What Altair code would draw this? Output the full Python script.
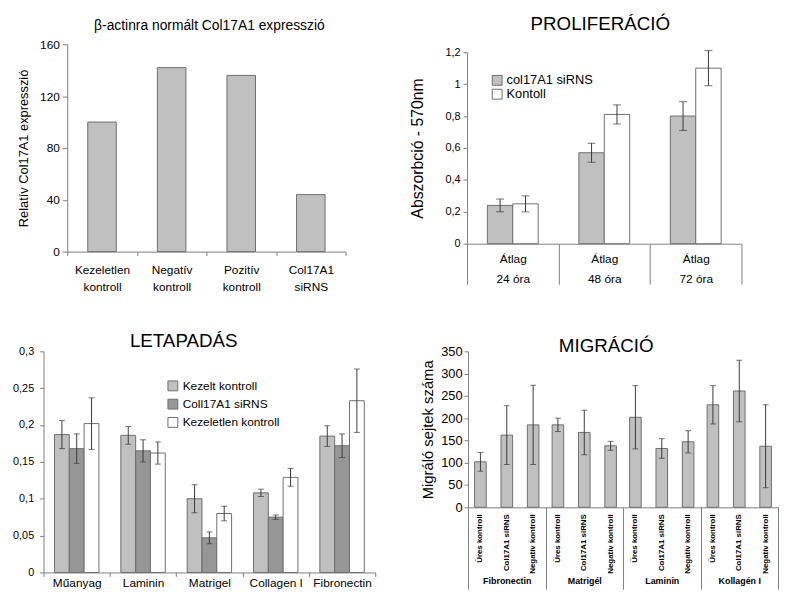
import altair as alt
import pandas as pd

FONT = "Liberation Sans"
AX = "#7f7f7f"      # axis line colour
BS = "#6e6e6e"      # bar outline
EC = "#3a3a3a"      # error bar colour

# ---------------- data ----------------
# Panel 1: beta-actin normalised Col17A1 expression
expr_cats = ["Kezeletlen|kontroll", "Negatív|kontroll", "Pozitív|kontroll", "Col17A1|siRNS"]
expr_vals = [100, 142, 136, 44]

# Panel 2: proliferation
prolif_times = ["Átlag|24 óra", "Átlag|48 óra", "Átlag|72 óra"]
prolif_series = ["col17A1 siRNS", "Kontoll"]
prolif_sirns = [0.24, 0.57, 0.80]
prolif_sirns_err = [0.04, 0.06, 0.09]
prolif_ctrl = [0.25, 0.81, 1.10]
prolif_ctrl_err = [0.05, 0.06, 0.11]

# Panel 3: adhesion
adh_surfaces = ["Műanyag", "Laminin", "Matrigel", "Collagen I", "Fibronectin"]
adh_series = ["Kezelt kontroll", "Coll17A1 siRNS", "Kezeletlen kontroll"]
adh_kezelt = [0.187, 0.186, 0.100, 0.108, 0.185]
adh_kezelt_err = [0.019, 0.012, 0.019, 0.005, 0.014]
adh_sirns = [0.168, 0.165, 0.047, 0.075, 0.172]
adh_sirns_err = [0.020, 0.015, 0.008, 0.003, 0.016]
adh_kezeletlen = [0.202, 0.162, 0.080, 0.129, 0.233]
adh_kezeletlen_err = [0.035, 0.015, 0.010, 0.012, 0.043]

# Panel 4: migration
mig_surfaces = ["Fibronectin", "Matrigél", "Laminin", "Kollagén I"]
mig_conditions = ["Üres kontroll", "Col17A1 siRNS", "Negatív kontroll"]
mig_ures = [102, 185, 202, 230]
mig_ures_err = [21, 15, 71, 43]
mig_col = [162, 168, 132, 261]
mig_col_err = [66, 50, 22, 69]
mig_neg = [185, 138, 147, 137]
mig_neg_err = [89, 10, 25, 93]

COMMA = "replace(format(datum.value, '~g'), '.', ',')"


def yenc(field, domain, values, title=None, lfs=12, tsize=4, lpad=3, tfs=13, tpad=8,
         rng=None, offset=None):
    ax = dict(values=values, grid=False, labelFontSize=lfs, tickSize=tsize,
              labelPadding=lpad, labelExpr=COMMA, domainColor=AX, tickColor=AX,
              labelColor="black", title=title)
    if title is not None:
        ax.update(titleFontSize=tfs, titlePadding=tpad, titleFontWeight="normal",
                  titleColor="black")
    if offset is not None:
        ax["offset"] = offset
    sc = dict(domain=domain, nice=False)
    if rng is not None:
        sc["range"] = rng
    return alt.Y(f"{field}:Q", scale=alt.Scale(**sc), axis=alt.Axis(**ax))


# ---------------- panel 1 ----------------
W1, L1 = 306, 24
p1_df = pd.DataFrame({"cat": expr_cats, "val": expr_vals})
p1 = alt.Chart(p1_df).mark_bar(
    color="#c0c0c0", stroke=BS, strokeWidth=1, width=alt.RelativeBandSize(0.41)
).encode(
    x=alt.X("cat:N", sort=expr_cats,
            scale=alt.Scale(paddingInner=0, paddingOuter=0, range=[L1, W1]),
            axis=alt.Axis(title=None, labelAngle=0, labelExpr="split(datum.label, '|')",
                          tickBand="extent", tickSize=4, labelPadding=9, labelFontSize=12,
                          labelLineHeight=17, domainColor=AX, tickColor=AX, labelColor="black")),
    y=yenc("val", [0, 160], [0, 40, 80, 120, 160], "Relatív Col17A1 expresszió",
           lfs=12, tsize=5, lpad=3, tfs=13, tpad=9, offset=-L1),
).properties(width=W1, height=210,
             title=alt.TitleParams("β-actinra normált Col17A1 expresszió", fontSize=14,
                                   offset=6, dx=15))

# ---------------- panel 2 ----------------
H2, T2 = 202, 8
p2_df = pd.DataFrame({
    "time": prolif_times * 2,
    "pser": [prolif_series[0]] * 3 + [prolif_series[1]] * 3,
    "val": prolif_sirns + prolif_ctrl,
    "err": prolif_sirns_err + prolif_ctrl_err,
})
b2 = alt.Chart(p2_df).transform_calculate(lo="datum.val - datum.err", hi="datum.val + datum.err")
x2 = alt.X("time:N", sort=prolif_times, scale=alt.Scale(paddingInner=0, paddingOuter=0),
           axis=alt.Axis(title=None, labelAngle=0, labelExpr="split(datum.label, '|')",
                         tickBand="extent", tickSize=41, labelPadding=-31, labelFontSize=12,
                         labelLineHeight=20, domainColor=AX, tickColor=AX, labelColor="black"))
xo2 = alt.XOffset("pser:N", scale=alt.Scale(domain=prolif_series, paddingOuter=0.8, paddingInner=0))
y2args = dict(domain=[0, 1.2], values=[0, 0.2, 0.4, 0.6, 0.8, 1.0, 1.2],
              title="Abszorbció - 570nm", lfs=11, tsize=4, lpad=3, tfs=16, tpad=20,
              rng=[H2, T2])
bars2 = b2.mark_bar(stroke=BS, strokeWidth=1).encode(
    x=x2, xOffset=xo2, y=yenc("val", **y2args),
    color=alt.Color("pser:N",
                    scale=alt.Scale(domain=prolif_series, range=["#c0c0c0", "#ffffff"]),
                    legend=alt.Legend(title=None, orient="none", legendX=24, legendY=T2 + 22,
                                      symbolType="square", symbolSize=100,
                                      symbolStrokeColor=BS, symbolStrokeWidth=1,
                                      labelFontSize=13, rowPadding=-2, labelOffset=3,
                                      labelColor="black")),
)
rule2 = b2.mark_rule(color=EC, strokeWidth=1).encode(
    x=x2, xOffset=xo2, y=yenc("lo", **y2args), y2="hi:Q")
caplo2 = b2.mark_tick(color=EC, thickness=1, size=8).encode(x=x2, xOffset=xo2, y=yenc("lo", **y2args))
caphi2 = b2.mark_tick(color=EC, thickness=1, size=8).encode(x=x2, xOffset=xo2, y=yenc("hi", **y2args))
p2 = alt.layer(bars2, rule2, caplo2, caphi2).properties(
    width=278, height=H2,
    title=alt.TitleParams("PROLIFERÁCIÓ", fontSize=19, offset=11, dx=-4))

# ---------------- panel 3 ----------------
p3_df = pd.DataFrame({
    "surf3": adh_surfaces * 3,
    "aser": sum([[s] * 5 for s in adh_series], []),
    "val": adh_kezelt + adh_sirns + adh_kezeletlen,
    "err": adh_kezelt_err + adh_sirns_err + adh_kezeletlen_err,
})
b3 = alt.Chart(p3_df).transform_calculate(lo="datum.val - datum.err", hi="datum.val + datum.err")
x3 = alt.X("surf3:N", sort=adh_surfaces, scale=alt.Scale(paddingInner=0, paddingOuter=0),
           axis=alt.Axis(title=None, labelAngle=0, tickBand="extent", tickSize=4, labelPadding=1,
                         labelFontSize=12, domainColor=AX, tickColor=AX, labelColor="black"))
xo3 = alt.XOffset("aser:N", scale=alt.Scale(domain=adh_series, paddingOuter=0.74, paddingInner=0))
y3args = dict(domain=[0, 0.3], values=[0, 0.05, 0.1, 0.15, 0.2, 0.25, 0.3],
              title=None, lfs=11, tsize=4, lpad=6)
bars3 = b3.mark_bar(stroke=BS, strokeWidth=1).encode(
    x=x3, xOffset=xo3, y=yenc("val", **y3args),
    color=alt.Color("aser:N",
                    scale=alt.Scale(domain=adh_series, range=["#c0c0c0", "#969696", "#ffffff"]),
                    legend=alt.Legend(title=None, orient="none", legendX=125, legendY=29,
                                      symbolType="square", symbolSize=100,
                                      symbolStrokeColor=BS, symbolStrokeWidth=1,
                                      labelFontSize=12, rowPadding=4.5, labelOffset=4,
                                      labelColor="black")),
)
rule3 = b3.mark_rule(color=EC, strokeWidth=1).encode(
    x=x3, xOffset=xo3, y=yenc("lo", **y3args), y2="hi:Q")
caplo3 = b3.mark_tick(color=EC, thickness=1, size=6).encode(x=x3, xOffset=xo3, y=yenc("lo", **y3args))
caphi3 = b3.mark_tick(color=EC, thickness=1, size=6).encode(x=x3, xOffset=xo3, y=yenc("hi", **y3args))
p3 = alt.layer(bars3, rule3, caplo3, caphi3).properties(
    width=336, height=224,
    title=alt.TitleParams("LETAPADÁS", fontSize=19, offset=-6, dx=-26))

# ---------------- panel 4 ----------------
p4_df = pd.DataFrame({
    "surf4": mig_surfaces * 3,
    "cond": sum([[c] * 4 for c in mig_conditions], []),
    "val": mig_ures + mig_col + mig_neg,
    "err": mig_ures_err + mig_col_err + mig_neg_err,
})
H4 = 158
b4 = alt.Chart(p4_df).transform_calculate(lo="datum.val - datum.err", hi="datum.val + datum.err")
x4 = alt.X("surf4:N", sort=mig_surfaces, scale=alt.Scale(paddingInner=0, paddingOuter=0),
           axis=alt.Axis(title=None, labelAngle=0, tickBand="extent", tickSize=83, labelPadding=-13,
                         labelFontSize=9, labelFontWeight="bold", domainColor=AX, tickColor=AX,
                         labelColor="black"))
xo4 = alt.XOffset("cond:N", scale=alt.Scale(domain=mig_conditions, paddingOuter=0.25, paddingInner=0.56))
y4args = dict(domain=[0, 350], values=[0, 50, 100, 150, 200, 250, 300, 350],
              title="Migráló sejtek száma", lfs=13, tsize=4, lpad=2, tfs=15, tpad=5)
bars4 = b4.mark_bar(color="#c0c0c0", stroke=BS, strokeWidth=1).encode(
    x=x4, xOffset=xo4, y=yenc("val", **y4args))
rule4 = b4.mark_rule(color=EC, strokeWidth=1).encode(
    x=x4, xOffset=xo4, y=yenc("lo", **y4args), y2="hi:Q")
caplo4 = b4.mark_tick(color=EC, thickness=1, size=6).encode(x=x4, xOffset=xo4, y=yenc("lo", **y4args))
caphi4 = b4.mark_tick(color=EC, thickness=1, size=6).encode(x=x4, xOffset=xo4, y=yenc("hi", **y4args))
lab4 = alt.Chart(p4_df).mark_text(angle=270, align="right", baseline="middle", fontSize=8,
                                  fontWeight="bold", color="black").encode(
    x=x4, xOffset=xo4, y=alt.value(H4 + 7), text="cond:N")
p4 = alt.layer(bars4, rule4, caplo4, caphi4, lab4).properties(
    width=314, height=H4,
    title=alt.TitleParams("MIGRÁCIÓ", fontSize=19, offset=-11, dx=-17))

row1 = alt.hconcat(p1, p2, spacing=63).resolve_scale(color="independent", xOffset="independent")
row2 = alt.hconcat(p3, p4, spacing=45).resolve_scale(color="independent", xOffset="independent")
chart = alt.vconcat(row1, row2, spacing=41).resolve_scale(
    color="independent", xOffset="independent"
).properties(
    padding={"left": 4, "top": 3, "right": 0, "bottom": -3}
).configure(font=FONT).configure_view(stroke=None).configure_title(
    fontWeight="normal", color="black", anchor="middle", font=FONT
).configure_axis(labelFont=FONT, titleFont=FONT).configure_legend(labelFont=FONT)

chart.save("out.html", embed_options={"renderer": "svg", "actions": False})
